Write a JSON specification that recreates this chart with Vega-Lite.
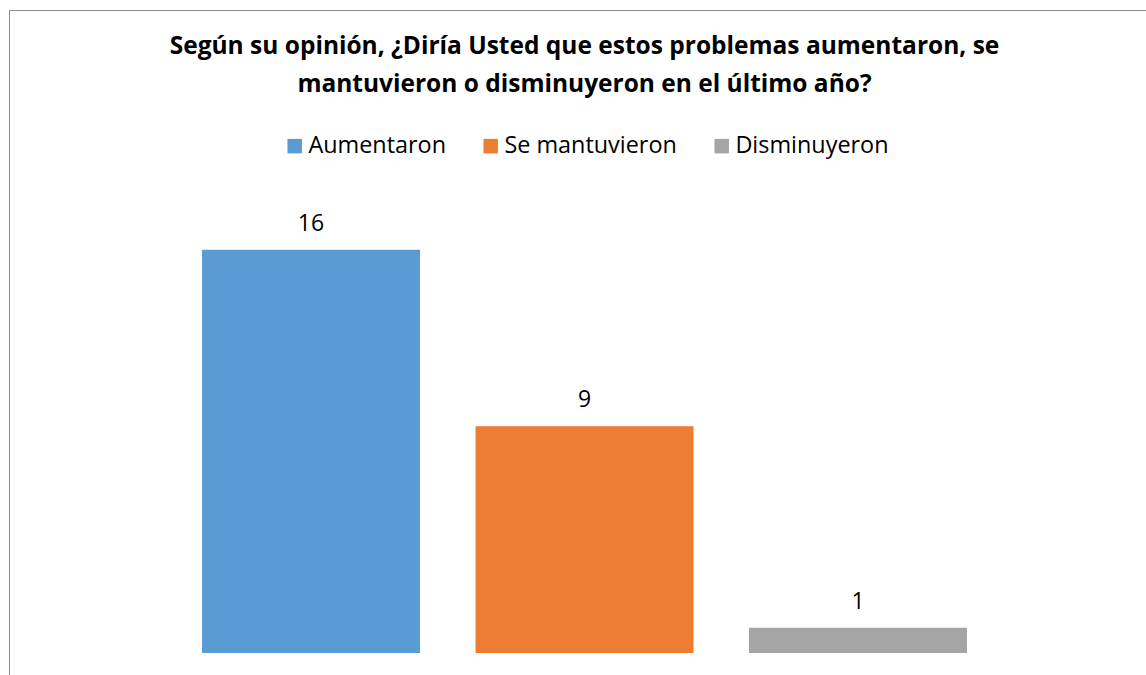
{
  "$schema": "https://vega.github.io/schema/vega-lite/v6.json",
  "autosize": "none",
  "padding": {"left": 9, "top": 10, "right": 0, "bottom": 0},
  "width": 1151,
  "height": 690,
  "background": "white",
  "config": {
    "view": {"stroke": "#8c8c8c", "strokeWidth": 1},
    "font": "Open Sans"
  },
  "title": {
    "text": ["Según su opinión, ¿Diría Usted que estos problemas aumentaron, se", "mantuvieron o disminuyeron en el último año?"],
    "anchor": "middle",
    "font": "Open Sans",
    "fontWeight": "bold",
    "fontSize": 24.5,
    "lineHeight": 38,
    "color": "#000000",
    "offset": -106,
    "baseline": "alphabetic"
  },
  "data": {
    "values": [
      {"categoria": "Aumentaron", "valor": 16},
      {"categoria": "Se mantuvieron", "valor": 9},
      {"categoria": "Disminuyeron", "valor": 1}
    ]
  },
  "encoding": {
    "x": {
      "field": "categoria",
      "type": "nominal",
      "sort": null,
      "scale": {"paddingInner": 0.203, "paddingOuter": 0.7057},
      "axis": null
    },
    "y": {
      "field": "valor",
      "type": "quantitative",
      "scale": {"domain": [-1.865, 25.516], "nice": false, "zero": false},
      "axis": null
    }
  },
  "layer": [
    {
      "mark": {"type": "bar"},
      "encoding": {
        "y2": {"datum": 0},
        "color": {
          "field": "categoria",
          "type": "nominal",
          "sort": null,
          "scale": {
            "domain": ["Aumentaron", "Se mantuvieron", "Disminuyeron"],
            "range": ["#5B9BD5", "#ED7D31", "#A5A5A5"]
          },
          "legend": {
            "title": null,
            "orient": "none",
            "direction": "horizontal",
            "legendX": 274,
            "legendY": 124,
            "symbolType": "square",
            "symbolSize": 210,
            "symbolStrokeWidth": 0,
            "symbolOpacity": 1,
            "labelFont": "Open Sans",
            "labelFontSize": 23.4,
            "labelColor": "#000000",
            "labelOffset": 2,
            "labelLimit": 400,
            "columnPadding": 33
          }
        }
      }
    },
    {
      "mark": {"type": "text", "dy": -19, "baseline": "alphabetic", "fontSize": 23, "font": "Open Sans", "color": "#000000"},
      "encoding": {
        "text": {"field": "valor", "type": "quantitative"}
      }
    }
  ]
}
